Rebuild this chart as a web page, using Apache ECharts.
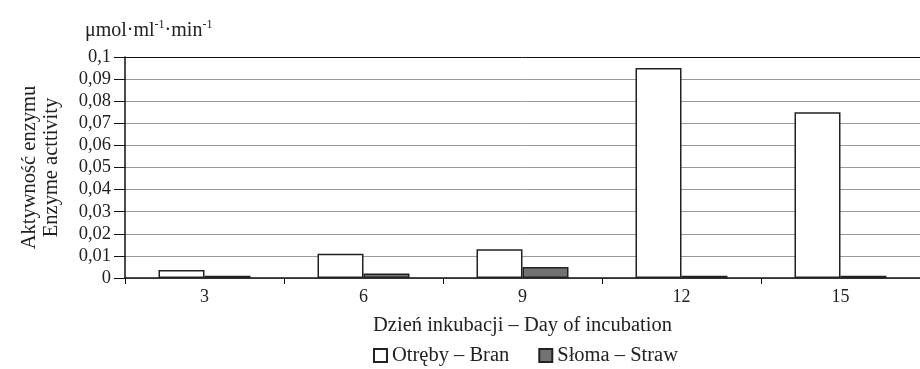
<!DOCTYPE html>
<html>
<head>
<meta charset="utf-8">
<script src="https://cdn.jsdelivr.net/npm/echarts@6/dist/echarts.min.js"></script>
<style>
html,body{margin:0;padding:0;background:#fff;}
#chart{width:920px;height:369px;}
</style>
</head>
<body>
<div id="chart"></div>
<script>
const days = ['3', '6', '9', '12', '15'];
const branValues = [0.0036, 0.011, 0.013, 0.095, 0.075];
const strawValues = [0.001, 0.002, 0.005, 0.001, 0.001];
const seriesNames = ['Otręby – Bran', 'Słoma – Straw'];
const yTitle = 'Aktywność enzymu\nEnzyme acttivity';
const xTitle = 'Dzień inkubacji – Day of incubation';

const FONT = '"Liberation Serif", "DejaVu Serif", serif';
const chart = echarts.init(document.getElementById('chart'), null, {renderer: 'canvas'});

const gridColors = [];
for (let i = 0; i <= 10; i++) gridColors.push(i === 10 ? '#111' : '#999');

chart.setOption({
  backgroundColor: '#fff',
  animation: false,
  textStyle: {fontFamily: FONT, color: '#222'},
  title: {
    left: 80,
    top: 14,
    text: '{a|μmol·ml}{s|-1}{a|·min}{s|-1}',
    textStyle: {
      fontWeight: 'normal',
      rich: {
        a: {fontFamily: FONT, fontSize: 20, fontWeight: 'normal', color: '#222', lineHeight: 22, verticalAlign: 'bottom'},
        s: {fontFamily: FONT, fontSize: 12, fontWeight: 'normal', color: '#222', lineHeight: 12, verticalAlign: 'top'}
      }
    }
  },
  legend: {
    top: 345,
    left: 373,
    icon: 'rect',
    itemWidth: 13,
    itemHeight: 13,
    itemGap: 29,
    padding: 0,
    textStyle: {fontFamily: FONT, fontSize: 20.5, color: '#222'},
    data: seriesNames
  },
  grid: {left: 125, top: 57, width: 801.5, height: 221, containLabel: false},
  xAxis: {
    type: 'category',
    data: days,
    name: xTitle,
    nameLocation: 'middle',
    nameGap: 37,
    nameTextStyle: {fontFamily: FONT, fontSize: 20.5, color: '#222'},
    axisLine: {lineStyle: {color: '#111', width: 1.5}},
    axisTick: {show: true, length: 6, lineStyle: {color: '#111'}},
    axisLabel: {fontFamily: FONT, fontSize: 18, color: '#222', margin: 10}
  },
  yAxis: {
    type: 'value',
    min: 0,
    max: 0.1,
    interval: 0.01,
    name: yTitle,
    nameLocation: 'middle',
    nameRotate: 90,
    nameGap: 62,
    nameTextStyle: {fontFamily: FONT, fontSize: 20.5, color: '#222', lineHeight: 22},
    axisLine: {show: true, lineStyle: {color: '#111', width: 1.5}},
    axisTick: {show: true, length: 11, lineStyle: {color: '#111'}},
    axisLabel: {
      fontFamily: FONT, fontSize: 18.5, color: '#222', margin: 14,
      formatter: v => (Math.round(v * 100) / 100).toString().replace('.', ',')
    },
    splitLine: {show: true, lineStyle: {color: gridColors, width: 1}}
  },
  series: [
    {
      name: seriesNames[0],
      type: 'bar',
      data: branValues,
      barWidth: 46,
      barGap: '0%',
      itemStyle: {color: '#fff', borderColor: '#222', borderWidth: 1.5}
    },
    {
      name: seriesNames[1],
      type: 'bar',
      data: strawValues,
      barWidth: 46,
      itemStyle: {color: '#727272', borderColor: '#222', borderWidth: 1.5}
    }
  ]
});
</script>
</body>
</html>
